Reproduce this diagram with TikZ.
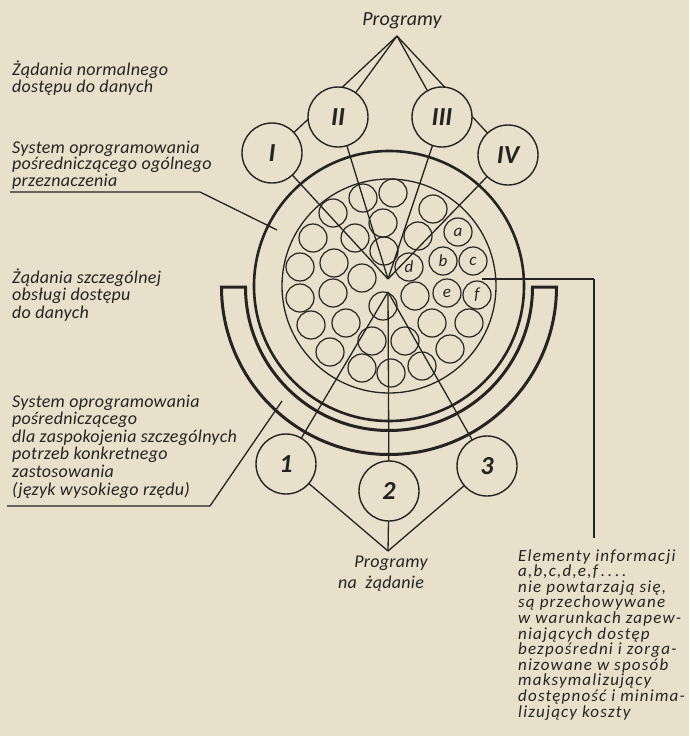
\documentclass[tikz,border=0pt]{standalone}
\usepackage{fontspec}
\setmainfont{Carlito}
\usetikzlibrary{arrows.meta}
\definecolor{paper}{RGB}{232,224,203}
\definecolor{ink}{RGB}{38,36,34}
\newcommand\txtL{\fontsize{18}{18}\selectfont\itshape\addfontfeatures{LetterSpace=1.5}}
\newcommand\txtE{\fontsize{17}{17}\selectfont\itshape\addfontfeatures{LetterSpace=7}}
\newcommand\txtP{\fontsize{20}{20}\selectfont\itshape}
\newcommand\numF{\fontsize{26}{26}\selectfont\itshape\bfseries}
\newcommand\letF{\fontsize{17}{17}\selectfont\itshape}
\begin{document}
\begin{tikzpicture}[x=1pt,y=-1pt,
  thin line/.style={draw=ink,line width=1.3pt},
  smallc/.style={circle,draw=ink,line width=1.2pt,minimum size=28pt,inner sep=0pt},
  bigc/.style={circle,draw=ink,fill=paper,line width=1.4pt,minimum size=60pt,inner sep=0pt,font=\numF,text=ink},
  lbl/.style={anchor=base west,inner sep=0pt,text=ink,font=\txtL},
  lblE/.style={anchor=base west,inner sep=0pt,text=ink,font=\txtE},
  lblP/.style={anchor=base,inner sep=0pt,text=ink,font=\txtP},
  letter/.style={inner sep=0pt,text=ink,font=\letF}]
\fill[paper] (0,0) rectangle (689,736);
\useasboundingbox (0,0) rectangle (689,736);

% small circles (information elements)
\foreach \x/\y [count=\k] in {363/198,393/193,433/209,333/213,383/223,313/238,355/238,418/236,458/232,
  300/267,334/263,384/251,409/267,443/261,473/261,362/278,
  300/298,333/293,415/296,447/293,477/295,383/306,
  311/325,346/323,432/323,469/323,372/341,405/341,330/352,450/349,362/368,391/373,422/366}
  \node[smallc] (s\k) at (\x,\y) {};
\node[letter] (la) at (s9) {a};
\node[letter] (lb) at (s14) {b};
\node[letter] (lc) at (s15) {c};
\node[letter] (ld) at (s13) {d};
\node[letter] (le) at (s20) {e};
\node[letter] (lf) at (s21) {f};

% main rings
\coordinate (O) at (389,286);
\draw[ink,line width=1.3pt] (O) circle[radius=107];
\draw[ink,line width=2.6pt] (O) circle[radius=135];
% bracket
\draw[ink,line width=3pt,line join=miter] (221.5,287) arc[start angle=180,end angle=0,radius=167.5]
  -- (532.5,287) arc[start angle=0,end angle=180,radius=143.5] -- cycle;

% centre points and apexes
\coordinate (ctop) at (388,279);
\coordinate (cbot) at (388,292);
\coordinate (ptop) at (397,36);
\coordinate (pbot) at (388,551);
\coordinate (cI) at (272,153);
\coordinate (cII) at (338,117);
\coordinate (cIII) at (442,117);
\coordinate (cIV) at (508,155);
\coordinate (c1) at (286,464);
\coordinate (c2) at (389,491);
\coordinate (c3) at (487,466);

% connectors (circles drawn later cover them)
\foreach \c in {cI,cII,cIII,cIV} {
  \draw[thin line] (ptop) -- (\c);
  \draw[thin line] (\c) -- (ctop);
}
\foreach \c in {c1,c2,c3} {
  \draw[thin line] (cbot) -- (\c);
  \draw[thin line] (pbot) -- (\c);
}

% label leaders
\coordinate (b0) at (10,192);
\coordinate (b1) at (200,192);
\coordinate (b2) at (277,230);
\draw[thin line] (b0) -- (b1) -- (b2);
\coordinate (d0) at (7,506);
\coordinate (d1) at (210,506);
\coordinate (d2) at (282,401);
\draw[thin line] (d0) -- (d1) -- (d2);
\coordinate (e0) at (482,279);
\coordinate (e1) at (594,279);
\coordinate (e2) at (594,538);
\draw[thin line] (e0) -- (e1);
\draw[ink,line width=1.8pt] (e1) -- (e2);

% program circles
\node[bigc] (nI) at (cI) {I};
\node[bigc] (nII) at (cII) {II};
\node[bigc] (nIII) at (cIII) {III};
\node[bigc] (nIV) at (cIV) {IV};
\node[bigc] (n1) at (c1) {1};
\node[bigc] (n2) at (c2) {2};
\node[bigc] (n3) at (c3) {3};

% texts
\node[lblP] (ptxt) at (402,25) {Programy};
\node[lblP,font=\txtL] (pbt1) at (391,567) {Programy};
\node[lblP,font=\txtL] (pbt2) at (381,588) {na\ \ żądanie};

\foreach \t [count=\i from 0] in {Żądania normalnego,dostępu do danych}
  \node[lbl] (A\i) at (12,75+17*\i) {\t};
\foreach \t [count=\i from 0] in {System oprogramowania,pośredniczącego ogólnego,przeznaczenia}
  \node[lbl] (B\i) at (12,153+16.5*\i) {\t};
\foreach \t [count=\i from 0] in {Żądania szczególnej,obsługi dostępu,do danych}
  \node[lbl] (C\i) at (12,283+17.5*\i) {\t};
\foreach \t [count=\i from 0] in {System oprogramowania,pośredniczącego,dla zaspokojenia szczególnych,potrzeb konkretnego,zastosowania,(język wysokiego rzędu)}
  \node[lbl] (D\i) at (12,407+17.6*\i) {\t};
\node[lblE] (E0) at (518,561) {Elementy informacji};
\node[lblE] (E1) at (518,576.6) {a,b,c,d,e,f\,.\,.\,.\,.};
\node[lblE] (E2) at (518,592.2) {nie powtarzają się,};
\node[lblE] (E3) at (518,607.8) {są przechowywane};
\node[lblE] (E4) at (518,623.4) {w warunkach zapew-};
\node[lblE] (E5) at (518,639) {niających dostęp};
\node[lblE] (E6) at (518,654.6) {bezpośredni i zorga-};
\node[lblE] (E7) at (518,670.2) {nizowane w sposób};
\node[lblE] (E8) at (518,685.8) {maksymalizujący};
\node[lblE] (E9) at (518,701.4) {dostępność i minima-};
\node[lblE] (E10) at (518,717) {lizujący koszty};
\end{tikzpicture}
\end{document}
